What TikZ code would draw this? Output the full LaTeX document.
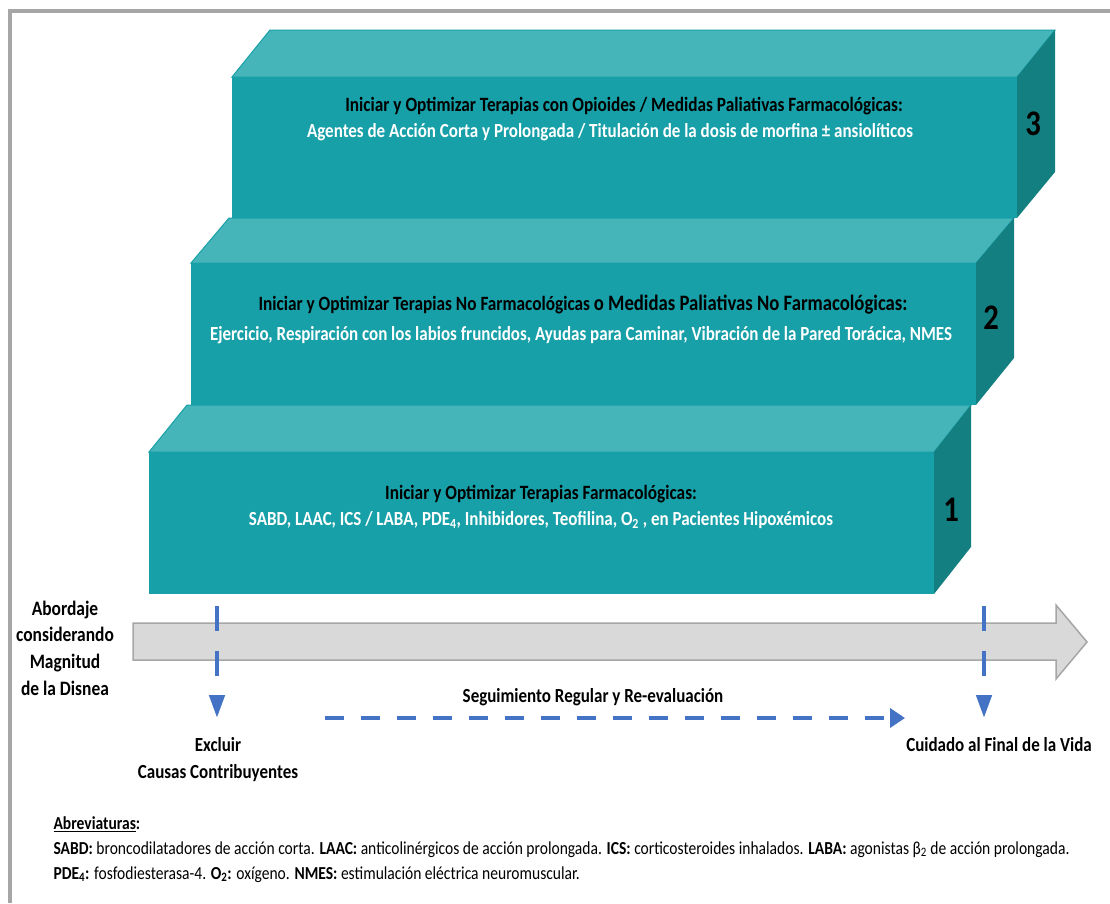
\documentclass[tikz,border=0pt]{standalone}
\usepackage{fontspec}
\setmainfont[FakeStretch=0.85]{Carlito}
\usetikzlibrary{arrows.meta}
\definecolor{tealfront}{HTML}{17A0A8}
\definecolor{tealtop}{HTML}{46B5B9}
\definecolor{tealside}{HTML}{137F80}
\definecolor{arrowgray}{HTML}{D9D9D9}
\definecolor{edgegray}{HTML}{A6A6A6}
\definecolor{dashblue}{HTML}{4472C4}

\begin{document}
\begin{tikzpicture}[x=1pt,y=-1pt,
  topface/.style={fill=tealtop,draw=tealfront,line width=1pt},
  head/.style={font=\fontsize{20.3}{22}\selectfont\bfseries,text=black},
  body/.style={font=\fontsize{20}{22}\selectfont\bfseries,text=white},
  num/.style={font=\fontsize{36}{36}\selectfont\bfseries},
  lbl/.style={font=\fontsize{20}{27}\selectfont\bfseries,align=center},
  bluedash/.style={draw=dashblue,line width=4.5pt,dash pattern=on 25pt off 20pt,-{Triangle[length=23pt,width=15pt]}}]
  \useasboundingbox (0,0) rectangle (1110,903);
  \clip (0,0) rectangle (1110,903);
  \draw[edgegray,line width=4pt] (10,903) -- (10,11) -- (1110,11);

  % step 3
  \filldraw[topface] (232,77) -- (270,30) -- (1055,30) -- (1017,77) -- cycle;
  \fill[tealside] (1017,77) -- (1055,30) -- (1055,172) -- (1017,218) -- cycle;
  \fill[tealfront] (232,77) rectangle (1017,218);
  \node[head] (h3) at (624,106) {Iniciar y Optimizar Terapias con Opioides / Medidas Paliativas Farmacológicas:};
  \node[body] (b3) at (610,132) {Agentes de Acción Corta y Prolongada / Titulación de la dosis de morfina ± ansiolíticos};
  \node[num] (n3) at (1033,124) {3};

  % step 2
  \filldraw[topface] (191,263) -- (229,218) -- (1014,218) -- (976,263) -- cycle;
  \fill[tealside] (976,263) -- (1014,218) -- (1014,358) -- (976,405) -- cycle;
  \fill[tealfront] (191,263) rectangle (976,405);
  \node[head] (h2) at (583,305) {Iniciar y Optimizar Terapias No Farmacológicas {\fontsize{22}{22}\selectfont o Medidas Paliativas No Farmacológicas:}};
  \node[body] (b2) at (581,335) {Ejercicio, Respiración con los labios fruncidos, Ayudas para Caminar, Vibración de la Pared Torácica, NMES};
  \node[num] (n2) at (991,318) {2};

  % step 1
  \filldraw[topface] (149,452) -- (187,405) -- (971,405) -- (934,452) -- cycle;
  \fill[tealside] (934,452) -- (971,405) -- (971,547) -- (934,594) -- cycle;
  \fill[tealfront] (149,452) rectangle (934,594);
  \node[head] (h1) at (541,494) {Iniciar y Optimizar Terapias Farmacológicas:};
  \node[body] (b1) at (541,520) {SABD, LAAC, ICS / LABA, PDE\textsubscript{4}, Inhibidores, Teofilina, O\textsubscript{2} , en Pacientes Hipoxémicos};
  \node[num] (n1) at (951,510) {1};

  % axis
  \filldraw[fill=arrowgray,draw=edgegray,line width=1.5pt] (133,623) -- (1056,623) -- (1056,605) -- (1087,642) -- (1056,679) -- (1056,660) -- (133,660) -- cycle;
  \node[lbl,font=\fontsize{20.5}{26.7}\selectfont\bfseries] (abord) at (65,648) {Abordaje\\considerando\\Magnitud\\de la Disnea};

  \coordinate (ex0) at (217,606);
  \coordinate (ex1) at (217,718);
  \coordinate (fv0) at (984,606);
  \coordinate (fv1) at (984,718);
  \coordinate (sg0) at (325,718);
  \coordinate (sg1) at (905,718);
  \draw[bluedash] (ex0) -- (ex1);
  \draw[bluedash] (fv0) -- (fv1);
  \draw[bluedash,line width=4pt,dash pattern=on 19pt off 17pt,-{Triangle[length=15pt,width=19pt]}] (sg0) -- (sg1);

  \node[lbl] (excl) at (218,760) {Excluir\\Causas Contribuyentes};
  \node[lbl] (fin) at (999,745) {Cuidado al Final de la Vida};
  \node[lbl] (seg) at (593,697) {Seguimiento Regular y Re-evaluación};

  \node[font=\fontsize{18.3}{25}\selectfont,align=left,anchor=north west] (abrev) at (50,813) {\textbf{\underline{Abreviaturas}:}\\
    \textbf{SABD:} broncodilatadores de acción corta. \textbf{LAAC:} anticolinérgicos de acción prolongada. \textbf{ICS:} corticosteroides inhalados. \textbf{LABA:} agonistas β\textsubscript{2} de acción prolongada.\\
    \textbf{PDE\textsubscript{4}:} fosfodiesterasa-4. \textbf{O\textsubscript{2}:} oxígeno. \textbf{NMES:} estimulación eléctrica neuromuscular.};
\end{tikzpicture}
\end{document}
